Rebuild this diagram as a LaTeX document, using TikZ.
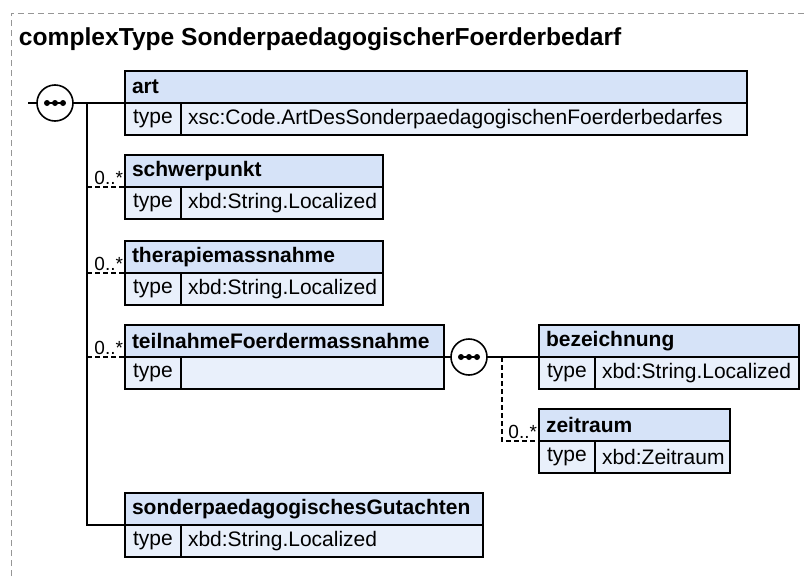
\documentclass[tikz,border=0pt]{standalone}
\usepackage{fontspec}
\setmainfont{Liberation Sans}
\usetikzlibrary{positioning}
\definecolor{hdrblue}{RGB}{214,227,248}
\definecolor{rowblue}{RGB}{233,240,251}
\definecolor{framegray}{RGB}{150,150,150}
\begin{document}
\begin{tikzpicture}
      [ x=1pt, y=-1pt, line width=1.6pt,
        every node/.style={inner sep=0pt, outer sep=0pt},
        head/.style={draw, fill=hdrblue, anchor=north west, minimum height=32pt,
          inner xsep=7pt, align=left, font=\fontsize{21}{24}\selectfont\bfseries},
        tcell/.style={draw, fill=rowblue, anchor=north west, minimum height=32pt,
          minimum width=56pt, font=\fontsize{21}{24}\selectfont},
        vcell/.style={draw, fill=rowblue, minimum height=32pt, right=0pt of #1,
          inner xsep=7pt, align=left, font=\fontsize{21}{24}\selectfont},
        seq/.style={draw, circle, fill=white, minimum size=36pt,
          path picture={
            \draw[black, line width=1.5pt] ([xshift=-10pt]path picture bounding box.center)
              -- ([xshift=10pt]path picture bounding box.center);
            \foreach \dx in {-8,0,8}
              \fill[black] ([xshift=\dx pt]path picture bounding box.center) circle (3pt);
          }},
        mult/.style={anchor=south east, inner xsep=2pt, inner ysep=2pt,
          font=\fontsize{19}{22}\selectfont},
        opt/.style={dash pattern=on 5pt off 3pt}
      ]
      \useasboundingbox (0,0) rectangle (806,576);
      \draw[framegray, line width=1pt, dash pattern=on 6pt off 4pt]
        (11,576) -- (11,13) -- (806,13);
      \node[anchor=base west, font=\fontsize{24.6}{28}\selectfont\bfseries] (title)
        at (19,45) {complexType SonderpaedagogischerFoerderbedarf};

      % elements of the outer sequence
      \node[head, text width=608pt] (art) at (125,71) {art};
      \node[tcell] (art-t) at (art.south west) {type};
      \node[vcell=art-t, text width=552pt] (art-v) {xsc:Code.ArtDesSonderpaedagogischenFoerderbedarfes};

      \node[head, text width=244pt] (schwer) at (125,155) {schwerpunkt};
      \node[tcell] (schwer-t) at (schwer.south west) {type};
      \node[vcell=schwer-t, text width=188pt] (schwer-v) {xbd:String.Localized};

      \node[head, text width=244pt] (thera) at (125,241) {therapiemassnahme};
      \node[tcell] (thera-t) at (thera.south west) {type};
      \node[vcell=thera-t, text width=188pt] (thera-v) {xbd:String.Localized};

      \node[head, text width=305pt] (teil) at (125,325) {teilnahmeFoerdermassnahme};
      \node[tcell] (teil-t) at (teil.south west) {type};
      \node[vcell=teil-t, text width=249pt] (teil-v) {};

      \node[head, text width=344pt] (gut) at (125,493) {sonderpaedagogischesGutachten};
      \node[tcell] (gut-t) at (gut.south west) {type};
      \node[vcell=gut-t, text width=288pt] (gut-v) {xbd:String.Localized};

      % elements of the inner sequence
      \node[head, text width=246pt] (bez) at (539,325) {bezeichnung};
      \node[tcell] (bez-t) at (bez.south west) {type};
      \node[vcell=bez-t, text width=190pt] (bez-v) {xbd:String.Localized};

      \node[head, text width=177pt] (zeit) at (539,409) {zeitraum};
      \node[tcell] (zeit-t) at (zeit.south west) {type};
      \node[vcell=zeit-t, text width=121pt] (zeit-v) {xbd:Zeitraum};

      % sequences and connectors
      \coordinate (in) at (28,103);
      \node[seq] (main) at (55,103) {};
      \draw (in) -- (main) -- (art.south west);
      \coordinate (bus) at (87,103);
      \draw (bus) |- (gut.south west);
      \draw[opt] (schwer.south west -| bus) -- node[mult, pos=1] {0..*} (schwer.south west);
      \draw[opt] (thera.south west -| bus) -- node[mult, pos=1] {0..*} (thera.south west);
      \draw[opt] (teil.south west -| bus) -- node[mult, pos=1] {0..*} (teil.south west);

      \node[seq] (sub) at (469,357) {};
      \draw (teil.south east) -- (sub) -- (bez.south west);
      \coordinate (subbus) at (502,357);
      \draw[opt] (subbus) |- node[mult, pos=1] {0..*} (zeit.south west);
\end{tikzpicture}
\end{document}
